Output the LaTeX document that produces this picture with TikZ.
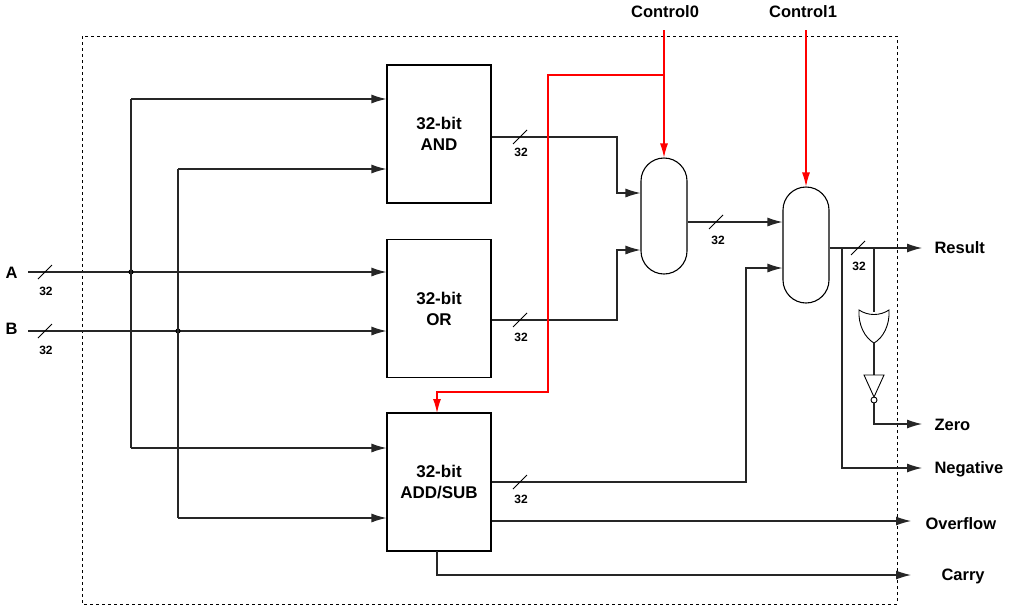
\documentclass[tikz,border=0pt]{standalone}
\usepackage{fontspec}
\setmainfont{Liberation Sans}
\usetikzlibrary{arrows.meta}
\begin{document}
\begin{tikzpicture}[x=1pt,y=-1pt,
  wire/.style={line width=1.1pt,black!85},
  arr/.style={wire,-{Latex[length=15pt,width=9pt]}},
  rarr/.style={line width=1.1pt,red,-{Latex[length=14pt,width=8pt]}},
  blk/.style={draw,line width=1.1pt,minimum width=104pt,minimum height=138pt,inner sep=0pt,align=center,font=\bfseries\fontsize{17}{21}\selectfont},
  mux/.style={draw,line width=1.1pt,rounded corners=23pt,minimum width=46pt,minimum height=116pt,inner sep=0pt},
  lbl/.style={font=\bfseries\fontsize{16.5}{19}\selectfont},
  bw/.style={font=\bfseries\fontsize{12}{14}\selectfont},
  slash/.style={line width=0.8pt}]
\useasboundingbox (0,0) rectangle (1024,608);
\draw[dashed,line width=1pt] (82,36) rectangle (897,604);
\node[blk] (and) at (439,134) {32-bit\\AND};
\node[blk] (or) at (439,308.5) {32-bit\\OR};
\node[blk] (add) at (439,482) {32-bit\\ADD/SUB};
\node[mux] (m0) at (664,216) {};
\node[mux] (m1) at (806,245) {};
\node[lbl,anchor=west] (A) at (2,273) {A};
\node[lbl,anchor=west] (B) at (2,329) {B};
\coordinate (ain) at (28,272); \coordinate (bin) at (28,331);
\coordinate (ja) at (131,272); \coordinate (jb) at (178,331);
\draw[arr] (ain) -- (or.west |- ain);
\draw[arr] (bin) -- (or.west |- bin);
\foreach \y in {272,331}{\draw[slash] (38,\y+7) -- (52,\y-7);}
\node[bw] at (46,291) {32}; \node[bw] at (46,350) {32};
\fill (ja) circle (2.6pt); \fill (jb) circle (2.6pt);
\draw[wire] (131,99) -- (131,448);
\draw[wire] (178,169) -- (178,518);
\draw[arr] (131,99) -- (and.west |- 0,99);
\draw[arr] (178,169) -- (and.west |- 0,169);
\draw[arr] (131,448) -- (add.west |- 0,448);
\draw[arr] (178,518) -- (add.west |- 0,518);
\draw[arr] (and.east |- 0,137) -- (617,137) -- (617,193) -- (m0.west |- 0,193);
\draw[arr] (or.east |- 0,320) -- (617,320) -- (617,250) -- (m0.west |- 0,250);
\draw[arr] (m0.east |- 0,222) -- (m1.west |- 0,222);
\draw[arr] (add.east |- 0,482) -- (746,482) -- (746,268) -- (m1.west |- 0,268);
\draw[slash] (513,144) -- (527,130); \node[bw] at (521,152) {32};
\draw[slash] (513,327) -- (527,313); \node[bw] at (521,337) {32};
\draw[slash] (709,229) -- (723,215); \node[bw] at (718,240) {32};
\draw[slash] (513,489) -- (527,475); \node[bw] at (521,499) {32};
\node[lbl,anchor=west] (res) at (931,248) {Result};
\node[lbl,anchor=west] (zero) at (931,425) {Zero};
\node[lbl,anchor=west] (neg) at (931,469) {Negative};
\node[lbl,anchor=west] (ovf) at (922,524) {Overflow};
\node[lbl,anchor=west] (car) at (938,576) {Carry};
\draw[arr] (m1.east |- 0,248) -- (922,248);
\draw[slash] (851,255) -- (865,241); \node[bw] at (859,266) {32};
\draw[arr] (842,248) -- (842,468) -- (922,468);
\draw[wire] (874,248) -- (874,312);
\draw[line width=0.9pt] (859,310) .. controls (868,316) and (880,316) .. (889,310)
  .. controls (890,325) and (883,338) .. (874,343)
  .. controls (865,338) and (858,325) .. (859,310) -- cycle;
\draw[wire] (874,343) -- (874,375);
\draw[line width=0.9pt] (864,375) -- (884,375) -- (874,397) -- cycle;
\draw[line width=0.9pt] (874,400) circle (3pt);
\draw[arr] (874,403) -- (874,424) -- (922,424);
\draw[arr] (add.east |- 0,521) -- (911,521);
\draw[arr] (437,551) -- (437,575) -- (911,575);
\node[lbl] (c0) at (665,12) {Control0};
\node[lbl] (c1) at (803,12) {Control1};
\draw[rarr] (664,30) -- (m0.north);
\draw[rarr] (806,30) -- (m1.north);
\draw[rarr] (664,75) -- (548,75) -- (548,392) -- (437,392) -- (437,413);
\end{tikzpicture}
\end{document}
